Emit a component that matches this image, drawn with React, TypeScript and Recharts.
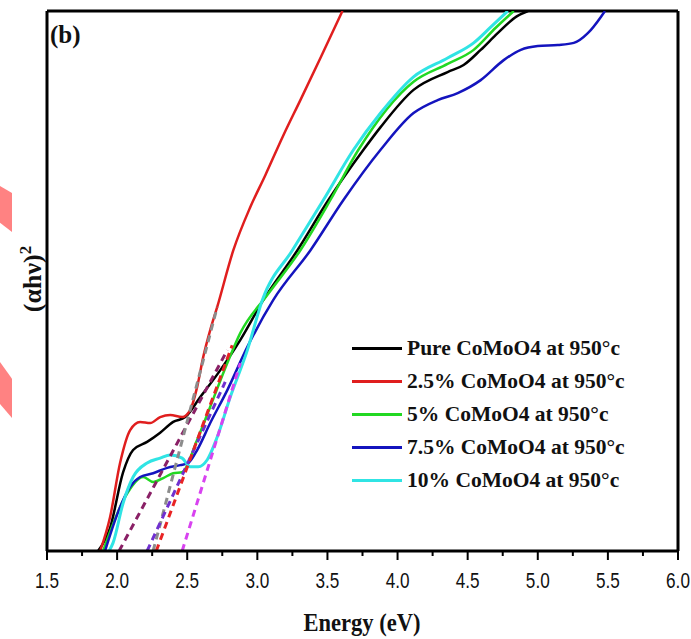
import { LineChart, Line, XAxis, YAxis, Legend, Label, ReferenceLine } from 'recharts'

// energy (eV) vs (αhν)², y in arbitrary units 0..100
const PURE: [number, number][] = [
  [1.864, 0], [1.95, 4.3], [2.043, 14.6], [2.114, 18.7], [2.214, 20.2], [2.307, 21.9],
  [2.4, 23.9], [2.486, 24.8], [2.593, 28.5], [2.736, 33.5], [2.879, 39.1], [3.043, 46.5],
  [3.286, 55.7], [3.507, 65.0], [3.757, 74.3], [3.879, 78.5], [4.114, 85.4], [4.357, 88.7],
  [4.471, 90.0], [4.593, 92.8], [4.714, 95.9], [4.85, 99.0], [4.93, 100],
]
const PCT_2_5: [number, number][] = [
  [1.879, 0], [1.95, 6.3], [2.021, 16.3], [2.093, 22.4], [2.164, 23.9], [2.236, 23.7],
  [2.307, 24.8], [2.379, 25.2], [2.464, 24.8], [2.521, 26.1], [2.571, 30.4], [2.614, 35.9],
  [2.664, 40.9], [2.714, 45.2], [2.829, 55.7], [2.95, 63.7], [3.057, 69.6], [3.186, 77.0],
  [3.307, 83.5], [3.45, 91.3], [3.607, 100],
]
const PCT_5: [number, number][] = [
  [1.9, 0], [2.057, 10.0], [2.186, 13.7], [2.257, 12.8], [2.329, 13.5], [2.4, 14.4],
  [2.464, 14.6], [2.571, 20.6], [2.664, 26.7], [2.786, 34.8], [2.879, 40.4], [3.071, 47.4],
  [3.307, 55.7], [3.521, 65.0], [3.721, 74.3], [4.114, 86.9], [4.357, 90.2], [4.543, 92.8],
  [4.7, 96.9], [4.829, 100],
]
const PCT_7_5: [number, number][] = [
  [1.914, 0], [2.007, 7.2], [2.093, 11.9], [2.164, 13.7], [2.257, 14.4], [2.357, 15.4],
  [2.45, 15.9], [2.507, 16.3], [2.571, 18.7], [2.664, 23.7], [2.786, 29.8], [2.929, 37.8],
  [3.114, 46.5], [3.379, 55.7], [3.614, 65.0], [3.879, 74.3], [4.114, 81.1], [4.286, 83.5],
  [4.429, 84.8], [4.593, 87.2], [4.757, 90.9], [4.879, 92.8], [5.0, 93.5], [5.143, 93.7],
  [5.257, 94.1], [5.357, 95.9], [5.45, 98.9], [5.479, 100],
]
const PCT_10: [number, number][] = [
  [1.943, 0], [1.971, 1.5], [2.043, 8.9], [2.114, 13.7], [2.214, 16.3], [2.307, 17.2],
  [2.379, 17.8], [2.464, 17.2], [2.521, 15.6], [2.579, 15.6], [2.643, 16.9], [2.714, 21.1],
  [2.807, 28.5], [2.929, 37.2], [3.036, 46.5], [3.25, 55.7], [3.471, 65.0], [3.686, 74.3],
  [3.879, 81.1], [4.114, 87.8], [4.357, 91.3], [4.543, 94.1], [4.664, 97.0], [4.786, 100],
]

// tangent lines used to read the band gaps
const FIT_PURE: [number, number][] = [[2.014, 0], [2.786, 37.2]]
const FIT_2_5: [number, number][] = [[2.257, 0], [2.714, 45.2]]
const FIT_7_5: [number, number][] = [[2.214, 0], [2.771, 31.3]]
const FIT_5: [number, number][] = [[2.279, 0], [2.821, 38.1]]
const FIT_10: [number, number][] = [[2.464, 0], [2.879, 34.8]]

const X_TICKS = [1.5, 1.75, 2.0, 2.25, 2.5, 2.75, 3.0, 3.25, 3.5, 3.75, 4.0, 4.25, 4.5, 4.75, 5.0, 5.25, 5.5, 5.75, 6.0]

const SERIES = [
  { name: 'Pure CoMoO4 at 950°c', pts: PURE, color: '#000000' },
  { name: '2.5% CoMoO4 at 950°c', pts: PCT_2_5, color: '#E01E1E' },
  { name: '5% CoMoO4 at 950°c', pts: PCT_5, color: '#22D822' },
  { name: '7.5% CoMoO4 at 950°c', pts: PCT_7_5, color: '#1414BE' },
  { name: '10% CoMoO4 at 950°c', pts: PCT_10, color: '#30E4E4' },
]
const FITS = [
  { id: 'fit-pure', pts: FIT_PURE, color: '#8A2066' },
  { id: 'fit-25', pts: FIT_2_5, color: '#8C8C8C' },
  { id: 'fit-75', pts: FIT_7_5, color: '#7030D0' },
  { id: 'fit-5', pts: FIT_5, color: '#E82424' },
  { id: 'fit-10', pts: FIT_10, color: '#D842F0' },
]
const SERIES_NAMES = SERIES.map((s) => s.name)

const SERIF = "'Liberation Serif', 'Times New Roman', serif"
const SANS = "'Liberation Sans', Arial, sans-serif"
const TICK_SIZE = 9
const TICK_MARGIN = 4

const toPts = (arr: [number, number][]) => arr.map(([x, y]) => ({ x, y }))

// eslint-disable-next-line @typescript-eslint/no-explicit-any
function EnergyTick({ x, y, payload }: any) {
  const v = payload.value as number
  const major = Math.abs(v * 2 - Math.round(v * 2)) < 1e-6
  const y0 = y - TICK_SIZE - TICK_MARGIN
  return (
    <g>
      <line x1={x} x2={x} y1={y0} y2={y0 + (major ? 9 : 5)} stroke="#000" strokeWidth={2} />
      {major && (
        // narrow digits like the original (Arial Narrow look)
        <text
          x={0} y={0} textAnchor="middle" fontFamily={SANS} fontSize={22} fill="#111"
          transform={`translate(${x} ${y0 + 37}) scale(0.78 1)`}
        >
          {v.toFixed(1)}
        </text>
      )}
    </g>
  )
}

function XTitle() {
  return (
    <text x={0} y={0} transform="translate(362 631) scale(0.98 1.12)" textAnchor="middle" fontFamily={SERIF} fontWeight={700} fontSize={23} fill="#111">
      Energy (eV)
    </text>
  )
}

function YTitle() {
  const cx = 41
  const cy = 279
  return (
    <text x={cx} y={cy} transform={`rotate(-90 ${cx} ${cy})`} textAnchor="middle" fontFamily={SERIF} fontWeight={700} fontSize={26} fill="#111">
      (αhν)<tspan dy={-10} fontSize={17}>2</tspan>
    </text>
  )
}

// eslint-disable-next-line @typescript-eslint/no-explicit-any
function LegendBox({ payload }: any) {
  // eslint-disable-next-line @typescript-eslint/no-explicit-any
  const rows = (payload ?? []).filter((p: any) => SERIES_NAMES.includes(p.value))
  // eslint-disable-next-line @typescript-eslint/no-explicit-any
  rows.sort((a: any, b: any) => SERIES_NAMES.indexOf(a.value) - SERIES_NAMES.indexOf(b.value))
  return (
    <div style={{ fontFamily: SERIF, fontWeight: 700, fontSize: 21.5, color: '#111' }}>
      {/* eslint-disable-next-line @typescript-eslint/no-explicit-any */}
      {rows.map((p: any) => (
        <div key={p.value} style={{ display: 'flex', alignItems: 'center', height: 33 }}>
          <span style={{ display: 'inline-block', width: 50, height: 3, background: p.color, marginRight: 5 }} />
          <span>{p.value}</span>
        </div>
      ))}
    </div>
  )
}

export default function App() {
  return (
    <div style={{ position: 'absolute', left: 0, top: 0, width: 691, height: 639, background: '#fff' }}>
      {/* pink marks on the left edge of the original scan */}
      <div style={{ position: 'absolute', left: 0, top: 186, width: 12, height: 46, background: '#FF8282', clipPath: 'polygon(0 0, 100% 15%, 100% 100%, 0 80%)' }} />
      <div style={{ position: 'absolute', left: 0, top: 362, width: 12, height: 56, background: '#FF8282', clipPath: 'polygon(0 0, 100% 30%, 100% 100%, 0 75%)' }} />
      <LineChart width={691} height={639} margin={{ top: 11, right: 13, bottom: 28, left: 0 }}>
        <XAxis
          xAxisId="x" dataKey="x" type="number" domain={[1.5, 6.0]} ticks={X_TICKS} interval={0}
          allowDataOverflow height={60} tickSize={TICK_SIZE} tickMargin={TICK_MARGIN} tickLine={false}
          tick={<EnergyTick />} axisLine={{ stroke: '#000', strokeWidth: 3 }}
        >
          <Label content={<XTitle />} />
        </XAxis>
        <YAxis yAxisId="y" type="number" domain={[0, 100]} allowDataOverflow width={47} tick={false} tickLine={false} axisLine={{ stroke: '#000', strokeWidth: 3 }}>
          <Label content={<YTitle />} />
        </YAxis>
        {/* frame: top and right edges */}
        <ReferenceLine xAxisId="x" yAxisId="y" y={100} stroke="#000" strokeWidth={3} />
        <ReferenceLine xAxisId="x" yAxisId="y" x={6.0} stroke="#000" strokeWidth={3} />
        <Legend layout="vertical" align="center" verticalAlign="middle" content={<LegendBox />} wrapperStyle={{ left: 352, top: 332, width: 330 }} />
        {SERIES.map((s) => (
          <Line
            key={s.name} xAxisId="x" yAxisId="y" data={toPts(s.pts)} dataKey="y" name={s.name}
            type="monotone" stroke={s.color} strokeWidth={s.name.startsWith('10%') ? 3 : 2.5}
            dot={false} activeDot={false} isAnimationActive={false}
          />
        ))}
        {FITS.map((f) => (
          <Line
            key={f.id} xAxisId="x" yAxisId="y" data={toPts(f.pts)} dataKey="y" name={f.id} legendType="none"
            type="linear" stroke={f.color} strokeWidth={3} strokeDasharray="7 5" dot={false} activeDot={false} isAnimationActive={false}
          />
        ))}
      </LineChart>
      <div style={{ position: 'absolute', left: 50, top: 21, fontFamily: SERIF, fontWeight: 700, fontSize: 25, color: '#111', lineHeight: 1.1 }}>(b)</div>
    </div>
  )
}
